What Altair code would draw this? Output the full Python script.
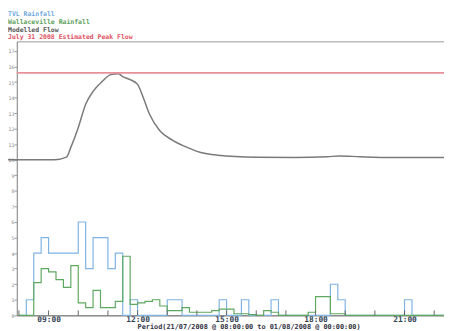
import altair as alt
import pandas as pd

# 15-minute rainfall bins (start hour), tick units
rain_start = [8.00, 8.25, 8.50, 8.75, 9.00, 9.25, 9.50, 9.75, 10.00, 10.25,
              10.50, 10.75, 11.00, 11.25, 11.50, 11.75, 12.00, 12.25, 12.50, 12.75,
              13.00, 13.25, 13.50, 13.75, 14.00, 14.25, 14.50, 14.75, 15.00, 15.25,
              15.50, 15.75, 16.00, 16.25, 16.50, 16.75, 17.00, 17.25, 17.50, 17.75,
              18.00, 18.25, 18.50, 18.75, 19.00, 19.25, 19.50, 19.75, 20.00, 20.25,
              20.50, 20.75, 21.00, 21.25, 21.50, 21.75, 22.00, 22.25, 22.50]
tvl_rain = [0, 1, 4, 5, 4, 4, 4, 4, 6, 3,
            5, 5, 3, 4, 0, 1, 0, 0, 0, 0,
            1, 1, 0, 0, 0, 0, 0, 1, 0, 0,
            1, 0, 0, 0, 1, 0, 0, 0, 0, 0,
            0, 0, 2, 1, 0, 0, 0, 0, 0, 0,
            0, 0, 1, 0, 0, 0, 0, 0, 0]
wallaceville_rain = [0, 0, 2.1, 3.0, 2.8, 2.3, 1.8, 3.2, 0.8, 0.5,
                     1.6, 0.5, 0.5, 0.9, 3.8, 0.7, 0.8, 0.9, 1.0, 0.6,
                     0.3, 0.3, 0.5, 0.2, 0.2, 0.2, 0.3, 0.4, 0.4, 0.1,
                     0.1, 0.05, 0, 0.3, 0.2, 0, 0, 0, 0, 0.2,
                     1.2, 1.2, 0.1, 0.1, 0, 0, 0, 0, 0, 0,
                     0, 0, 0, 0, 0, 0, 0, 0, 0]

# Modelled flow (hand-read points)
flow_hour = [7.6, 8.5, 9.2, 9.6, 9.75, 10.0, 10.25, 10.5, 10.8, 11.1, 11.35, 11.5,
             11.75, 12.0, 12.2, 12.4, 12.75, 13.2, 13.75, 14.1, 14.7, 16.0, 17.3,
             18.4, 18.8, 19.5, 20.6, 22.5]
flow_value = [10.0, 10.0, 10.0, 10.17, 10.8, 12.07, 13.58, 14.4, 15.03, 15.48, 15.54, 15.35,
              15.16, 14.85, 13.96, 12.95, 11.87, 11.24, 10.74, 10.49, 10.3, 10.17, 10.15,
              10.2, 10.25, 10.2, 10.15, 10.15]

peak_flow = 15.6
hour_ticks = [8, 9, 10, 11, 12, 13, 14, 15, 16, 17, 18, 19, 20, 21, 22]
y_ticks = list(range(0, 18))

legend_labels = ["TVL Rainfall", "Wallaceville Rainfall", "Modelled Flow",
                 "July 31 2008 Estimated Peak Flow"]
legend_colors = ["#6fa8dc", "#5aa05a", "#555555", "#e05060"]

rain_df = pd.DataFrame({"hour": rain_start, "TVL": tvl_rain, "Wal": wallaceville_rain})
flow_df = pd.DataFrame({"hour": flow_hour, "flow": flow_value})
tick_df = pd.DataFrame({"hour": hour_ticks})
leg_df = pd.DataFrame({"label": legend_labels, "color": legend_colors,
                       "row": list(range(len(legend_labels)))})

xscale = alt.Scale(domain=[7.93, 22.33], nice=False, zero=False)
yscale = alt.Scale(domain=[0, 17.62], nice=False)

xaxis = alt.Axis(values=[9, 12, 15, 18, 21],
                 labelExpr="(datum.value < 10 ? '0' : '') + datum.value + ':00'",
                 title="Period(21/07/2008 @ 08:00:00 to 01/08/2008 @ 00:00:00)",
                 titleFont="DejaVu Sans Mono", titleFontSize=7, titleFontWeight="bold",
                 titleColor="#333344", titlePadding=-1, titleX=236,
                 labelFont="DejaVu Sans Mono", labelFontSize=8, labelFontWeight="bold",
                 labelColor="#334455", labelPadding=0, ticks=False,
                 domainColor="#777777", grid=False)
yaxis = alt.Axis(values=y_ticks, title=None, tickSize=3, labelFontSize=5,
                 labelFont="DejaVu Sans Mono", labelColor="#888888", labelPadding=0,
                 tickColor="#999999", domainColor="#999999", grid=False)

x = alt.X("hour:Q", scale=xscale, axis=xaxis)

tvl = alt.Chart(rain_df).mark_line(interpolate="step-after", color="#7fb3e3",
                                   strokeWidth=1.2).encode(
    x=x, y=alt.Y("TVL:Q", scale=yscale, axis=yaxis))
wal = alt.Chart(rain_df).mark_line(interpolate="step-after", color="#5fa85f",
                                   strokeWidth=1.2).encode(
    x=alt.X("hour:Q", scale=xscale), y=alt.Y("Wal:Q", scale=yscale, axis=None))
flow = alt.Chart(flow_df).mark_line(interpolate="monotone", color="#7a7a7a",
                                    strokeWidth=1.5).encode(
    x=alt.X("hour:Q", scale=xscale), y=alt.Y("flow:Q", scale=yscale, axis=None))
peak = alt.Chart(pd.DataFrame({"v": [peak_flow]})).mark_rule(
    color="#e8909a", strokeWidth=1.8).encode(y=alt.Y("v:Q", scale=yscale, axis=None))
ticks = alt.Chart(tick_df).mark_rule(color="#666666", strokeWidth=1).encode(
    x=alt.X("hour:Q", scale=xscale), y=alt.value(279), y2=alt.value(274))
legend = alt.Chart(leg_df).mark_text(
    align="left", baseline="middle", font="DejaVu Sans Mono", fontSize=6.6,
    fontWeight="bold").encode(
    x=alt.value(-9),
    y=alt.Y("row:Q", scale=alt.Scale(domain=[0, 3], range=[-27.5, -4.1]), axis=None),
    color=alt.Color("color:N", scale=None),
    text="label:N")

chart = alt.layer(tvl, wal, flow, peak, ticks, legend).resolve_scale(y="independent").properties(
    width=435, height=279,
    autosize=alt.AutoSizeParams(type="none"),
    padding={"left": 9, "top": 31, "right": 0, "bottom": 13}
).configure_view(stroke="#999999", strokeWidth=1)

chart.save("out.html", embed_options={"renderer": "svg", "actions": False})
